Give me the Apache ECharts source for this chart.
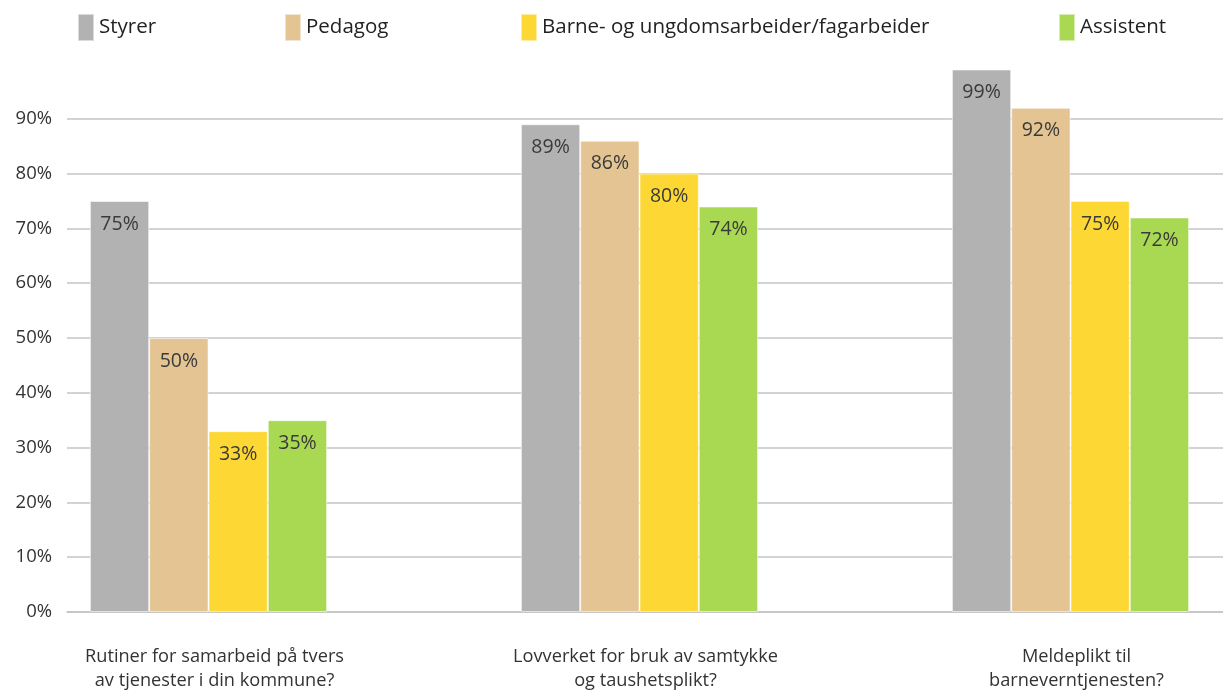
<!DOCTYPE html>
<html>
<head>
<meta charset="utf-8">
<script src="https://cdn.jsdelivr.net/npm/echarts@6/dist/echarts.min.js"></script>
<style>
  html, body { margin: 0; padding: 0; background: #fff; }
  #chart { width: 1223px; height: 690px; }
</style>
</head>
<body>
<div id="chart"></div>
<script>
// Questions on the category axis
const categories = [
  'Rutiner for samarbeid på tvers\nav tjenester i din kommune?',
  'Lovverket for bruk av samtykke\nog taushetsplikt?',
  'Meldeplikt til\nbarneverntjenesten?'
];

// Share answering yes, per role (percent)
const styrer    = [75, 89, 99];
const pedagog   = [50, 86, 92];
const barne     = [33, 80, 75];
const assistent = [35, 74, 72];

const seriesNames = ['Styrer', 'Pedagog', 'Barne- og ungdomsarbeider/fagarbeider', 'Assistent'];
const seriesData = [styrer, pedagog, barne, assistent];
const colors = ['#b2b2b2', '#e3c492', '#fdd835', '#a9d853'];

// Left edge of each legend entry
const legendLefts = [72, 279, 515, 1053];

const textColor = '#333333';
const gridColor = '#c4c4c4';
const font = '"Open Sans", sans-serif';

// Spread the three groups out: an empty slot sits between neighbouring questions
const paddedCategories = [];
categories.forEach((c, i) => {
  if (i > 0) paddedCategories.push('');
  paddedCategories.push(c);
});
function pad(values) {
  const out = [];
  values.forEach((v, i) => {
    if (i > 0) out.push('-');
    out.push(v);
  });
  return out;
}

const chart = echarts.init(document.getElementById('chart'), null, { renderer: 'canvas' });

const option = {
  animation: false,
  color: colors,
  legend: seriesNames.map((name, i) => ({
    data: [name],
    left: legendLefts[i],
    top: 8,
    icon: 'rect',
    itemWidth: 16,
    itemHeight: 27,
    itemGap: 0,
    textStyle: { fontSize: 20.5, color: '#222', fontFamily: font, padding: [3, 0, 0, 0] },
    selectedMode: false
  })),
  grid: [
    // value axis + gridlines
    { left: 67, right: 0, top: 64, bottom: 78, outerBoundsMode: 'none' },
    // bars and category labels
    { left: 100.75, width: 1077.5, top: 64, bottom: 78, outerBoundsMode: 'none' }
  ],
  xAxis: [
    {
      gridIndex: 0,
      type: 'category',
      data: [''],
      axisLine: { show: true, lineStyle: { color: gridColor, width: 1.5 } },
      axisTick: { show: false },
      axisLabel: { show: false }
    },
    {
      gridIndex: 1,
      type: 'category',
      data: paddedCategories,
      axisLine: { show: false },
      axisTick: { show: false },
      axisLabel: {
        margin: 33,
        fontSize: 18.2,
        lineHeight: 24,
        color: textColor,
        fontFamily: font,
        padding: [0, 0, 0, 12],
        interval: 0
      }
    }
  ],
  yAxis: [
    {
      gridIndex: 0,
      type: 'value',
      min: 0,
      max: 100,
      interval: 10,
      axisLine: { show: false },
      axisTick: { show: false },
      axisLabel: {
        margin: 15,
        fontSize: 18.5,
        color: textColor,
        fontFamily: font,
        showMaxLabel: false,
        formatter: '{value}%'
      },
      splitLine: {
        show: true,
        showMaxLine: false,
        lineStyle: { color: gridColor, width: 1.5 }
      }
    },
    {
      gridIndex: 1,
      type: 'value',
      min: 0,
      max: 100,
      show: false,
      splitLine: { show: false }
    }
  ],
  series: seriesNames.map((name, i) => ({
    name: name,
    type: 'bar',
    xAxisIndex: 1,
    yAxisIndex: 1,
    data: pad(seriesData[i]),
    barWidth: 59.3,
    barGap: '0%',
    clip: false,
    itemStyle: {
      color: colors[i],
      borderColor: 'rgba(255,255,255,0.55)',
      borderWidth: 1
    },
    label: {
      show: true,
      position: 'insideTop',
      distance: 13,
      fontSize: 19.5,
      color: '#3a3a3a',
      fontFamily: font,
      formatter: '{c}%'
    }
  }))
};

chart.setOption(option);
</script>
</body>
</html>
